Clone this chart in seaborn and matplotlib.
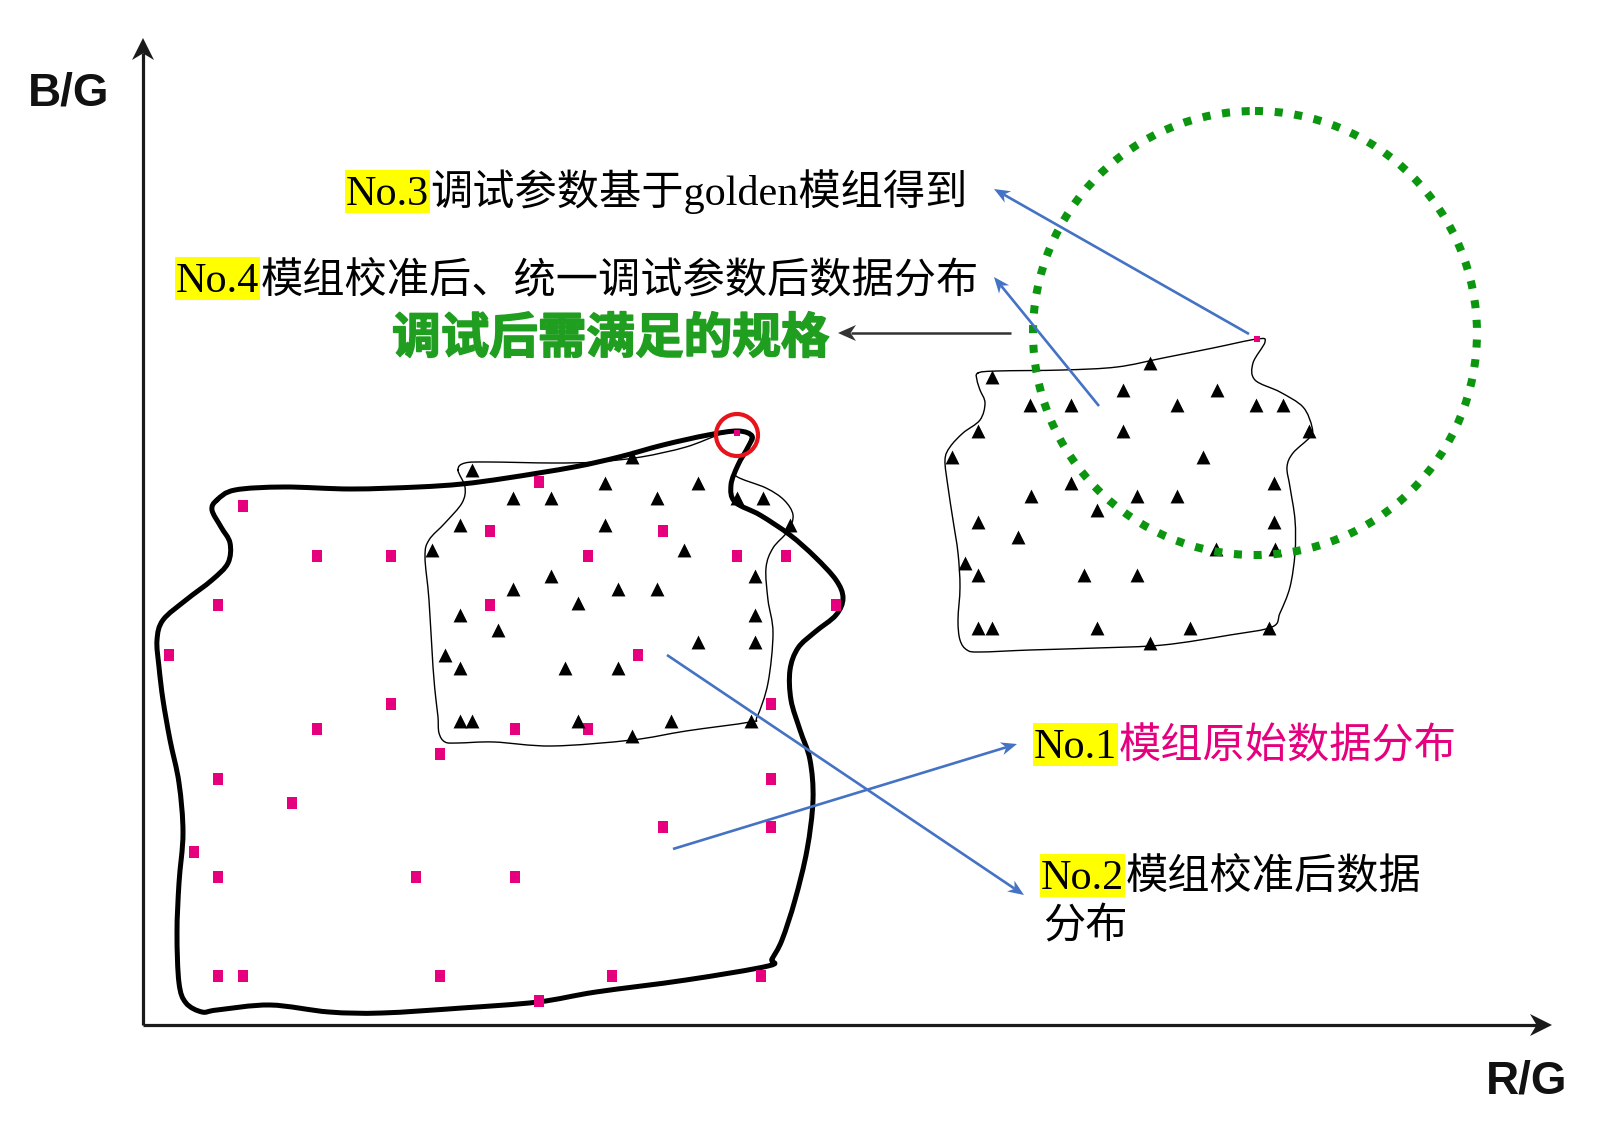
import matplotlib
matplotlib.use("Agg")
import matplotlib.pyplot as plt
import numpy as np
import seaborn as sns
from matplotlib.patches import Circle, PathPatch, Rectangle
from matplotlib.path import Path
from matplotlib.markers import MarkerStyle
import matplotlib.patheffects as pe

# --- No.1 raw module data (pink squares), canvas coords (x right, y down)
raw_x = [243, 317, 391, 218, 169, 539, 490, 588, 663, 737, 786, 490, 836, 638, 391, 317, 440, 515,
         588, 771, 218, 292, 771, 194, 218, 416, 515, 663, 771, 218, 243, 440, 612, 761, 539]
raw_y = [506, 556, 556, 605, 655, 482, 531, 556, 531, 556, 556, 605, 605, 655, 704, 729, 754, 729,
         729, 704, 779, 803, 779, 852, 877, 877, 877, 827, 827, 976, 976, 976, 976, 976, 1001]
golden_x = [737, 1257]
golden_y = [433, 339]

# --- No.2 calibrated data (triangles)
cal_x = [472, 632, 513, 551, 605, 657, 698, 737, 763, 460, 605, 790, 432, 684, 551, 513, 618, 657,
         755, 460, 578, 498, 755, 698, 755, 445, 460, 565, 618, 460, 472, 578, 671, 751, 632]
cal_y = [470, 457, 498, 498, 483, 498, 483, 498, 498, 525, 525, 525, 550, 550, 576, 589, 589, 589,
         576, 615, 603, 630, 615, 642, 642, 655, 668, 668, 668, 721, 721, 721, 721, 721, 736]

# --- No.4 after unified tuning (triangles, right cluster)
tuned_x = [1150, 992, 1123, 1217, 1030, 1071, 1177, 1256, 1283, 978, 1123, 1309, 952, 1203, 1071,
           1274, 1031, 1137, 1177, 1097, 978, 1274, 1018, 1216, 1275, 965, 978, 1084, 1137, 978,
           992, 1097, 1190, 1269, 1150]
tuned_y = [363, 377, 390, 390, 405, 405, 405, 405, 405, 431, 431, 431, 457, 457, 483, 483, 496, 496,
           496, 510, 522, 522, 537, 549, 549, 563, 575, 575, 575, 628, 628, 628, 628, 628, 643]

# --- hand-drawn boundaries
raw_edge_x = [217, 235, 284, 351, 418, 462, 507, 574, 619, 663, 708, 738, 752, 748, 738, 731, 735,
              760, 790, 815, 836, 843, 836, 815, 798, 790, 791, 800, 810, 813, 807, 795, 782, 772,
              768, 686, 596, 538, 462, 382, 329, 270, 217, 202, 186, 179, 177, 179, 183, 179, 170,
              163, 159, 157, 163, 186, 212, 228, 230, 221, 212]
raw_edge_y = [500, 490, 487, 489, 487, 484, 478, 467, 457, 445, 435, 431, 436, 447, 465, 485, 502,
              515, 535, 557, 580, 598, 615, 632, 648, 670, 700, 730, 760, 800, 850, 900, 940, 959,
              966, 980, 992, 1002, 1008, 1013, 1012, 1005, 1010, 1012, 1003, 983, 933, 883, 833,
              783, 740, 700, 667, 640, 620, 600, 580, 563, 543, 527, 510]
cal_edge_x = [458, 465, 489, 552, 596, 641, 686, 721, 740, 750, 748, 738, 736, 766, 784, 793, 788,
              773, 766, 768, 773, 768, 757, 750, 686, 632, 552, 494, 458, 445, 439, 438, 436, 433,
              429, 425, 429, 445, 462, 465]
cal_edge_y = [470, 463, 462, 463, 462, 457, 447, 434, 431, 434, 445, 465, 476, 488, 500, 515, 531,
              548, 568, 600, 633, 683, 717, 722, 731, 740, 746, 742, 743, 742, 733, 717, 700, 667,
              600, 557, 540, 523, 503, 487]
tuned_edge_x = [978, 997, 1063, 1117, 1163, 1213, 1257, 1265, 1253, 1255, 1280, 1303, 1312, 1310,
                1293, 1287, 1290, 1295, 1295, 1290, 1280, 1272, 1230, 1163, 1097, 1030, 980, 967,
                960, 958, 960, 958, 953, 948, 945, 950, 963, 980, 985, 980, 977]
tuned_edge_y = [373, 371, 370, 367, 358, 348, 339, 342, 363, 380, 392, 407, 427, 437, 453, 467,
                487, 520, 553, 587, 613, 627, 635, 645, 648, 650, 652, 650, 640, 620, 587, 553,
                520, 487, 460, 447, 433, 420, 403, 390, 380]

spec_center = (1255, 333)
spec_radius = 222

PINK = "#e6007e"
GREEN = "#0c9610"
BLUE = "#4472c4"

sns.set_theme(style="white")
plt.rcParams['font.family'] = ['Noto Sans CJK SC', 'DejaVu Sans']
MIXED = ['Liberation Serif', 'Noto Sans CJK SC']

fig = plt.figure(figsize=(15.98, 11.25), dpi=100)
ax = fig.add_axes([0, 0, 1, 1])
ax.set_xlim(0, 1598)
ax.set_ylim(1125, 0)
ax.axis('off')


def outline(xs, ys, lw):
    p = np.column_stack([xs, ys]).astype(float)
    n = len(p)
    verts, codes = [p[0]], [Path.MOVETO]
    for i in range(n):
        p0, p1, p2, p3 = p[i - 1], p[i], p[(i + 1) % n], p[(i + 2) % n]
        verts += [p1 + (p2 - p0) / 6, p2 - (p3 - p1) / 6, p2]
        codes += [Path.CURVE4] * 3
    ax.add_patch(PathPatch(Path(verts, codes), fill=False, lw=lw, ec='black',
                           joinstyle='round', capstyle='round', zorder=2))


def arrow(x0, y0, x1, y1, color, lw, hl, hw):
    p0, p1 = np.array([x0, y0], float), np.array([x1, y1], float)
    u = (p1 - p0) / np.linalg.norm(p1 - p0)
    nrm = np.array([-u[1], u[0]])
    back = p1 - u * hl
    notch = p1 - u * hl * 0.7
    ax.plot([p0[0], notch[0]], [p0[1], notch[1]], color=color, lw=lw, solid_capstyle='butt', zorder=7)
    head = np.array([p1, back + nrm * hw / 2, notch, back - nrm * hw / 2])
    ax.fill(head[:, 0], head[:, 1], color=color, lw=0, zorder=7)


def tagged(x, y, tag, rest, color, size=30.4):
    r = fig.canvas.get_renderer()
    t = ax.text(x, y, tag, fontsize=size, family=MIXED, va='baseline', ha='left',
                color='black', zorder=9)
    bb = t.get_window_extent(r)
    (x0d, _), (x1d, _) = ax.transData.inverted().transform([(bb.x0, bb.y0), (bb.x1, bb.y1)])
    em = size * fig.dpi / 72
    ax.add_patch(Rectangle((x0d - 1, y - 0.82 * em), x1d - x0d + 2, em, fc='#ffff00',
                           ec='none', zorder=8))
    ax.text(x1d + 1, y, rest, fontsize=size, family=MIXED, va='baseline', ha='left',
            color=color, zorder=9)


# axes with arrow heads
arrow(143, 1025, 143, 38, '#1a1a1a', 2.3, 22, 22)
arrow(143, 1025, 1552, 1025, '#1a1a1a', 2.3, 22, 22)
ax.text(28, 105, 'B/G', fontsize=33, fontweight='bold', family='Liberation Sans',
        va='baseline', ha='left', color='#111111')
ax.text(1486, 1093, 'R/G', fontsize=33, fontweight='bold', family='Liberation Sans',
        va='baseline', ha='left', color='#111111')

# boundaries
outline(raw_edge_x, raw_edge_y, 3.6)
outline(cal_edge_x, cal_edge_y, 1.0)
outline(tuned_edge_x, tuned_edge_y, 1.0)

# data points
rect = MarkerStyle([(-0.8, -1), (0.8, -1), (0.8, 1), (-0.8, 1)])
sns.scatterplot(x=raw_x, y=raw_y, marker=rect, s=66, color=PINK, linewidth=0, ax=ax, zorder=4)
sns.scatterplot(x=golden_x, y=golden_y, marker='s', s=14, color=PINK, linewidth=0, ax=ax, zorder=4)
sns.scatterplot(x=cal_x, y=cal_y, marker='^', s=100, color='black', linewidth=0, ax=ax, zorder=4)
sns.scatterplot(x=tuned_x, y=tuned_y, marker='^', s=100, color='black', linewidth=0, ax=ax, zorder=4)

# golden module highlight and spec circle
ax.add_patch(Circle((737, 435), 21, fill=False, ec='#e8141b', lw=3, zorder=5))
ax.add_patch(Circle(spec_center, spec_radius, fill=False, ec=GREEN, lw=5.8,
                    ls=(0, (1, 1.45)), capstyle='butt', zorder=6))

# annotations
tagged(346, 205, 'No.3', '调试参数基于golden模组得到', 'black')
tagged(176, 292, 'No.4', '模组校准后、统一调试参数后数据分布', 'black')
tagged(1034, 758, 'No.1', '模组原始数据分布', PINK)
tagged(1041, 889, 'No.2', '模组校准后数据', 'black')
ax.text(1043, 938, '分布', fontsize=30.4, family=MIXED, va='baseline', ha='left', color='black', zorder=9)

ax.text(392, 353, '调试后需满足的规格', fontsize=35, fontweight='bold', color='#1f9e1f',
        va='baseline', ha='left', zorder=9,
        path_effects=[pe.withStroke(linewidth=1.2, foreground='#1f9e1f')])
arrow(1011, 333, 838, 333, '#333333', 1.8, 18, 16)

arrow(1249, 334, 994, 189, BLUE, 1.9, 16, 13)
arrow(1099, 406, 994, 277, BLUE, 1.9, 16, 13)
arrow(667, 655, 1024, 895, BLUE, 1.9, 16, 13)
arrow(673, 849, 1017, 744, BLUE, 1.9, 16, 13)

plt.savefig("out.png", dpi=100)
plt.close(fig)
